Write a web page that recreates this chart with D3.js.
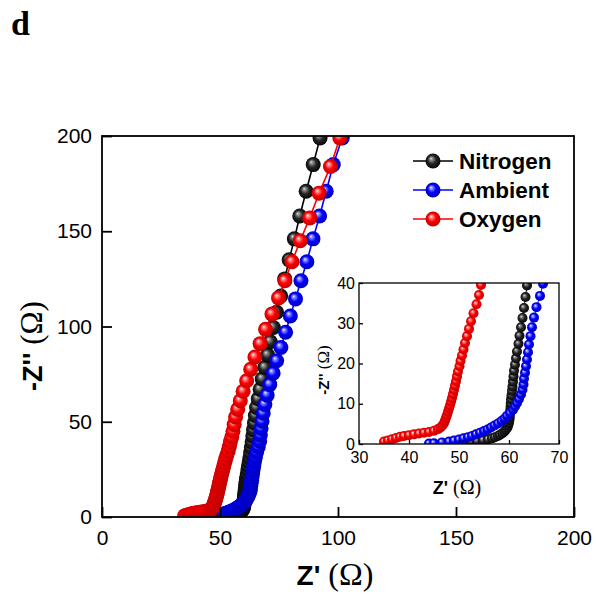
<!DOCTYPE html>
<html><head><meta charset="utf-8">
<script src="https://cdn.jsdelivr.net/npm/d3@7"></script>
<style>body{margin:0;background:#fff}</style>
</head><body>
<svg id="c" width="596" height="598"></svg>
<script>
// ---------- data ----------
const seriesNames = ["Nitrogen", "Ambient", "Oxygen"];
const seriesColors = ["black", "blue", "red"];

const nitrogenX = [92.4,89.5,86.5,83.8,81.5,79.3,77.4,75.7,74.0,72.6,71.3,70.2,69.0,67.9,67.0,66.2,65.5,65.0,64.6,64.2,63.9,63.6,63.3,63.0,62.7,62.4,62.1,61.9,61.6,61.4,61.2,61.0,60.9,60.8,60.7,60.6,60.5,60.4,60.35,60.3,60.25,60.2,60.15,60.1,60.0,59.85,59.7,59.4,59.1,58.7,58.2,57.8,57.2,56.6,55.8,54.8,53.6,52.4,51.2,50.0];
const nitrogenY = [199,185,171,158,146,135,125,116,107.5,99.5,92,85,78.5,72.5,67,62,57.5,53.3,49.4,45.8,42.5,39.4,36.5,33.8,31.3,29,26.9,24.9,23.0,21.3,19.7,18.2,16.8,15.5,14.3,13.2,12.1,11.1,10.1,9.2,8.3,7.5,6.7,6.0,5.3,4.7,4.1,3.6,3.1,2.7,2.3,2.0,1.7,1.4,1.15,0.95,0.75,0.6,0.45,0.3];

const ambientX = [101.8,98,95,92.2,89.4,86.8,84.3,82,79.8,77.8,75.8,74,72.5,71.1,70,69,68.3,67.8,67.4,67.1,66.8,66.2,65.5,65,64.6,64.3,64.0,63.8,63.6,63.4,63.2,63.0,62.9,62.7,62.4,62.0,61.6,61.2,60.8,60.2,59.6,59.1,58.5,57.8,57.1,56.4,55.7,55.0,54.2,53.4,52.6,51.8,50.9,50.0,49.0,48.0,46.6,45.0,44.0];
const ambientY = [199,185,171,158,146,134,124,114.5,105.5,97,89,82,75.5,69.5,64,59,54.5,50.3,46.5,43,39.8,36.8,34,31.4,29,26.8,24.7,22.8,21,19.3,17.7,16.2,14.8,13.5,12.3,11.2,10.2,9.3,8.5,7.7,7.0,6.3,5.7,5.1,4.6,4.1,3.6,3.2,2.8,2.4,2.0,1.7,1.4,1.1,0.85,0.6,0.4,0.2,0.1];

const oxygenX = [100.8,96.8,92,88,84,80.5,77.5,74.8,72,69.3,67,64.8,63,61.3,59.8,58.6,57.5,56.6,56,55.5,55,54.4,54,53.5,52.9,52.4,52,51.6,51.2,50.9,50.6,50.3,50.1,49.8,49.6,49.4,49.2,49,48.8,48.6,48.4,48.2,48,47.8,47.6,47.4,47.2,47,46.7,46.3,45.8,45.0,44.0,43.0,42.0,41.0,40.0,39.0,38.2,37.4,36.6,35.8,35.0];
const oxygenY = [199,184,170,157,145,134,124,115,106.5,98.5,91,84,77.5,71.5,66,61,56.5,52.5,48.5,45,42,39.5,37,34.7,32.5,30.5,28.6,26.8,25.1,23.5,22,20.6,19.3,18,16.8,15.6,14.5,13.4,12.4,11.4,10.5,9.6,8.8,8.0,7.2,6.5,5.8,5.2,4.6,4.1,3.7,3.3,3.0,2.8,2.6,2.4,2.2,2.0,1.8,1.5,1.2,0.9,0.6];

const mainXTicks = [0, 50, 100, 150, 200];
const mainYTicks = [0, 50, 100, 150, 200];
const insetXTicks = [30, 40, 50, 60, 70];
const insetYTicks = [0, 10, 20, 30, 40];

// ---------- build ----------
const seriesX = [nitrogenX, ambientX, oxygenX];
const seriesY = [nitrogenY, ambientY, oxygenY];
const series = seriesNames.map((name, i) => ({
  name, color: seriesColors[i],
  pts: seriesX[i].map((v, j) => [v, seriesY[i][j]]).reverse()
}));

const gradStops = {
  black: [["0%", "#e8e8e8"], ["14%", "#9a9a9a"], ["50%", "#262626"], ["100%", "#000"]],
  blue:  [["0%", "#ffffff"], ["14%", "#9c9cff"], ["50%", "#0000ff"], ["100%", "#0000a8"]],
  red:   [["0%", "#ffffff"], ["14%", "#ff9c9c"], ["50%", "#ff0000"], ["100%", "#b80000"]]
};

const SANS = "'Liberation Sans', Arial, Helvetica, sans-serif";
const SERIF = "'Liberation Serif', 'Times New Roman', serif";

const svg = d3.select("#c");
const defs = svg.append("defs");
seriesColors.forEach(c => {
  const g = defs.append("radialGradient").attr("id", "g-" + c)
    .attr("cx", "50%").attr("cy", "50%").attr("r", "55%")
    .attr("fx", "36%").attr("fy", "32%");
  gradStops[c].forEach(s => g.append("stop").attr("offset", s[0]).attr("stop-color", s[1]));
});

function panel(opts) {
  const x = d3.scaleLinear().domain(opts.xd).range([opts.l, opts.r]);
  const y = d3.scaleLinear().domain(opts.yd).range([opts.b, opts.t]);
  const cid = "clip-" + opts.id;
  defs.append("clipPath").attr("id", cid).append("rect")
    .attr("x", opts.l).attr("y", opts.t).attr("width", opts.r - opts.l).attr("height", opts.b - opts.t);
  const g = svg.append("g");
  if (opts.bg) g.append("rect").attr("x", opts.l).attr("y", opts.t)
    .attr("width", opts.r - opts.l).attr("height", opts.b - opts.t).attr("fill", "#fff");
  const dg = g.append("g").attr("clip-path", `url(#${cid})`);
  const line = d3.line().x(d => x(d[0])).y(d => y(d[1]));
  series.forEach(s => {
    dg.append("path").attr("d", line(s.pts)).attr("fill", "none")
      .attr("stroke", s.color).attr("stroke-width", opts.lw);
    dg.append("g").selectAll("circle").data(s.pts).join("circle")
      .attr("cx", d => x(d[0])).attr("cy", d => y(d[1])).attr("r", opts.mr)
      .attr("fill", `url(#g-${s.color})`);
  });
  const ax = g.append("g").attr("transform", `translate(0,${opts.b})`)
    .call(d3.axisBottom(x).tickValues(opts.xt).tickSizeInner(-opts.tl).tickSizeOuter(0).tickPadding(opts.xpad));
  const ay = g.append("g").attr("transform", `translate(${opts.l},0)`)
    .call(d3.axisLeft(y).tickValues(opts.yt).tickSizeInner(-opts.tl).tickSizeOuter(0).tickPadding(opts.ypad));
  [ax, ay].forEach(a => {
    a.select(".domain").remove();
    a.selectAll("line").attr("stroke", "#000").attr("stroke-width", opts.fw);
    a.selectAll("text").attr("fill", "#000").style("font-family", SANS).style("font-size", opts.fs + "px");
  });
  g.append("rect").attr("x", opts.l).attr("y", opts.t)
    .attr("width", opts.r - opts.l).attr("height", opts.b - opts.t)
    .attr("fill", "none").attr("stroke", "#000").attr("stroke-width", opts.fw);
  return {x, y, g};
}

// main plot
panel({id: "main", l: 102, r: 574, t: 136, b: 517, xd: [0, 200], yd: [0, 200],
  xt: mainXTicks, yt: mainYTicks, tl: 10, xpad: 13, ypad: 10, fs: 21, fw: 1.8, mr: 7.5, lw: 1.6});

// inset
panel({id: "inset", bg: true, l: 359, r: 559, t: 283, b: 444, xd: [30, 70], yd: [0, 40],
  xt: insetXTicks, yt: insetYTicks, tl: 4, xpad: 8, ypad: 4, fs: 16, fw: 1.3, mr: 5, lw: 1});

// axis titles
function title(x, y, rot, parts) {
  const t = svg.append("text").attr("text-anchor", "middle")
    .attr("transform", `translate(${x},${y}) rotate(${rot})`).attr("fill", "#000");
  t.append("tspan").text(parts[0]).style("font-family", SANS).style("font-weight", "bold").style("font-size", parts[1] + "px");
  t.append("tspan").text(" (Ω)").style("font-family", SERIF).style("font-size", parts[2] + "px");
  return t;
}
title(335, 585, 0, ["Z'", 28, 32]);
title(42, 346, -90, ["-Z''", 27, 31]);
title(457, 494, 0, ["Z'", 18, 20]);
title(329, 370, -90, ["-Z''", 15, 17]);

// legend
const legY = d3.scalePoint().domain(seriesNames).range([161, 219]);
const leg = svg.append("g");
series.forEach(s => {
  const yy = legY(s.name);
  leg.append("line").attr("x1", 413).attr("x2", 453).attr("y1", yy).attr("y2", yy)
    .attr("stroke", s.color).attr("stroke-width", 1.6);
  leg.append("circle").attr("cx", 433).attr("cy", yy).attr("r", 7.5).attr("fill", `url(#g-${s.color})`);
  leg.append("text").attr("x", 459).attr("y", yy).attr("dy", "0.36em").text(s.name)
    .style("font-family", SANS).style("font-weight", "bold").style("font-size", "22.5px").attr("fill", "#000");
});

// panel letter
svg.append("text").attr("x", 11).attr("y", 35).text("d")
  .style("font-family", SERIF).style("font-weight", "bold").style("font-size", "34px").attr("fill", "#000");
</script>
</body></html>
